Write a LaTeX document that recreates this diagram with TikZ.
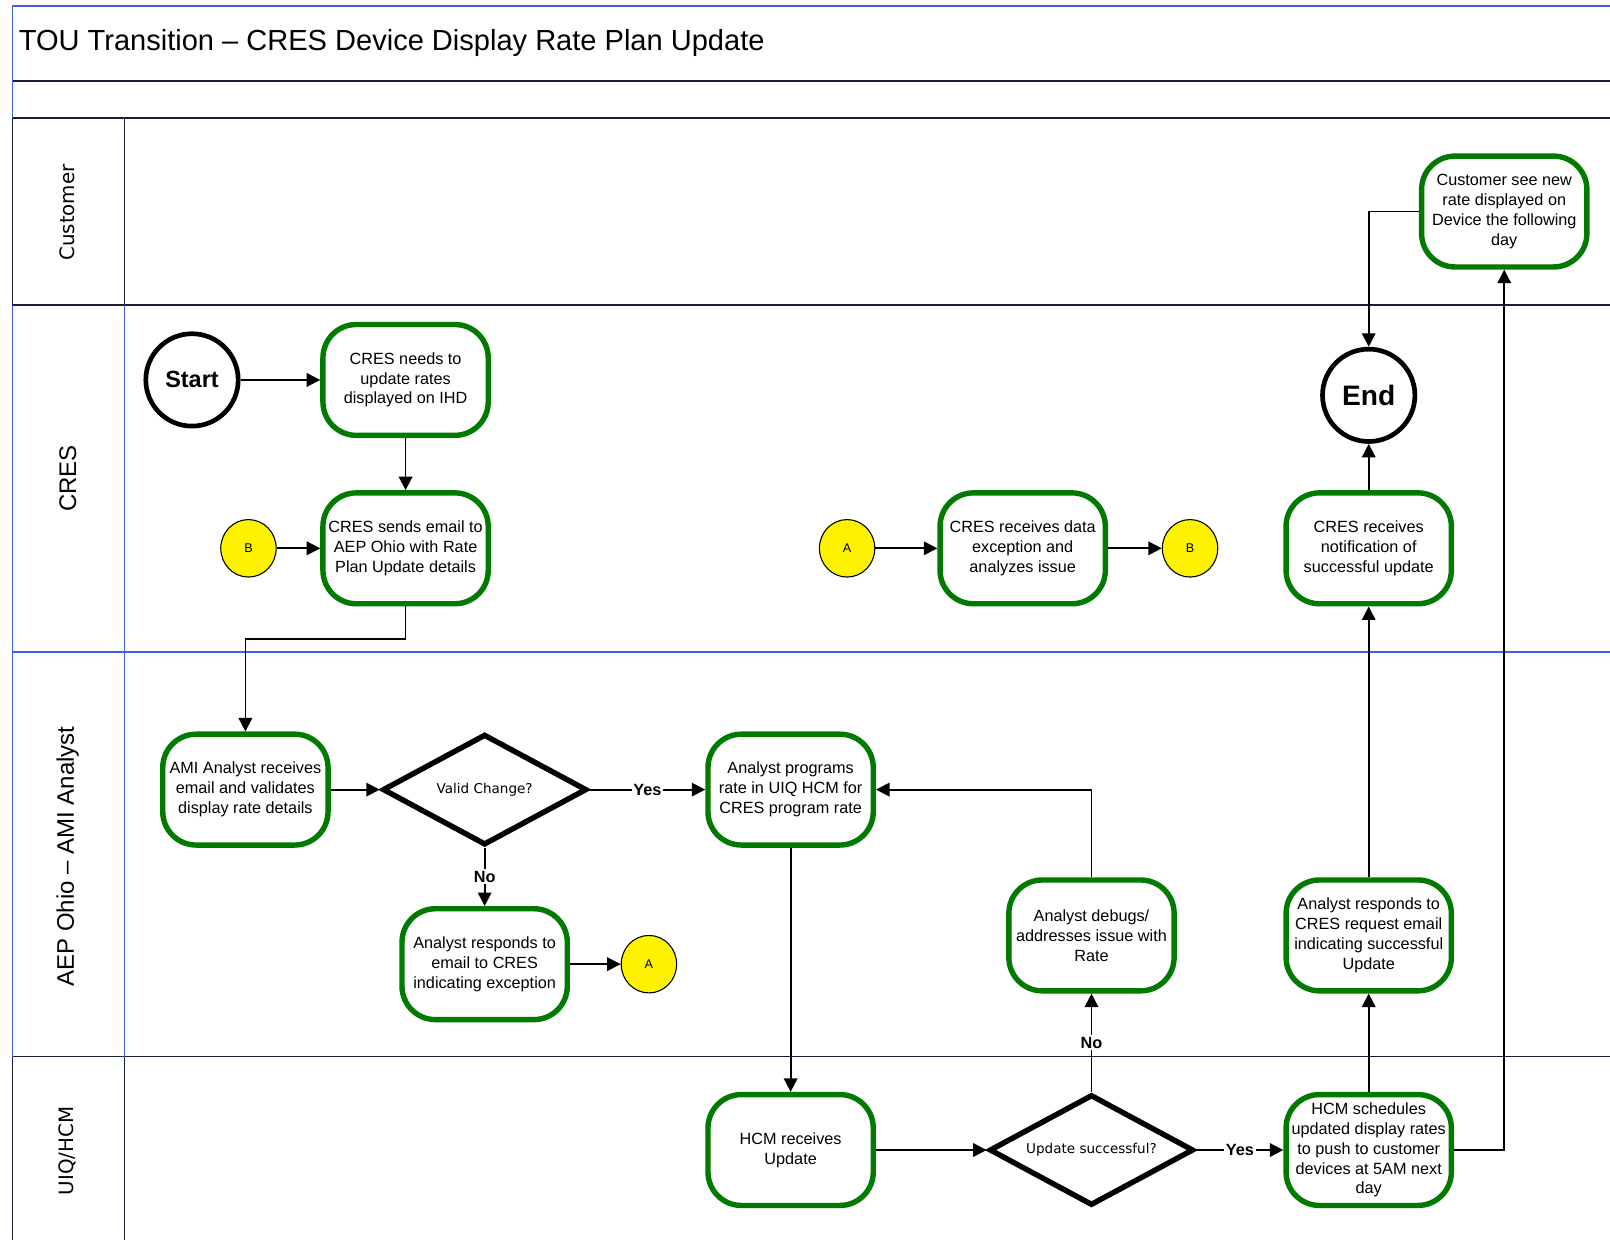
\documentclass[tikz,border=0pt]{standalone}
\usepackage{fontspec}
\setmainfont{Liberation Sans}
\newfontfamily\lanefont{DejaVu Sans}
\usepackage{tikz}
\usetikzlibrary{shapes.geometric,arrows.meta}
\definecolor{boxgreen}{RGB}{0,122,0}
\definecolor{laneblue}{RGB}{60,100,225}
\definecolor{lanedark}{RGB}{25,30,55}

\begin{document}
\begin{tikzpicture}[x=0.02cm,y=-0.02cm,
  task/.style={draw=boxgreen,line width=3pt,fill=white,rounded corners=0.65cm,minimum width=3.22cm,minimum height=2.16cm,inner sep=1pt,align=center,font=\fontsize{9}{11}\selectfont},
  choice/.style={draw,diamond,line width=3pt,aspect=1.8,minimum width=3.98cm,minimum height=2.16cm,inner sep=0pt,fill=white,font=\lanefont\fontsize{7.5}{9}\selectfont},
  terminal/.style={draw,circle,line width=2.6pt,minimum size=1.8cm,inner sep=0pt,fill=white},
  link/.style={draw,ellipse,fill=yellow,line width=0.6pt,minimum width=1.08cm,minimum height=1.12cm,inner sep=0pt,font=\fontsize{7}{8}\selectfont},
  flow/.style={line width=1pt,-{Triangle[length=7.5pt,width=7.5pt]}},
  answer/.style={fill=white,inner sep=1pt,font=\bfseries\fontsize{9}{10}\selectfont},
  lane/.style={rotate=90,font=\lanefont\fontsize{11}{13}\selectfont},
  widelane/.style={rotate=90,font=\fontsize{13.3}{15}\selectfont}]
\useasboundingbox (0,0) rectangle (1568,1208);
\draw[laneblue,line width=1.2pt] (12,6) -- (1568,6);
\draw[lanedark,line width=0.9pt] (12,79) -- (1568,79) (12,115) -- (1568,115) (12,297) -- (1568,297) (12,1029) -- (1568,1029);
\draw[laneblue,line width=0.9pt] (12,635) -- (1568,635);
\draw[laneblue,line width=0.6pt] (12,6) -- (12,115) (12,297) -- (12,1029) (121,297) -- (121,1029);
\draw[lanedark,line width=0.6pt] (12,115) -- (12,297) (12,1029) -- (12,1208) (121,115) -- (121,297) (121,1029) -- (121,1208);
\node[anchor=west,inner sep=0pt,font=\fontsize{16.1}{19}\selectfont] (title) at (18,42) {TOU Transition – CRES Device Display Rate Plan Update};
\node[lane] (lcustomer) at (66,207) {Customer};
\node[widelane] (lcres) at (66,466) {CRES};
\node[widelane] (laep) at (66,834) {AEP Ohio – AMI Analyst};
\node[lane] (luiq) at (66,1121) {UIQ/HCM};

\node[terminal,font=\bfseries\fontsize{13}{15}\selectfont] (start) at (187,370) {Start};
\node[task] (needs) at (395,370) {CRES needs to\\update rates\\displayed on IHD};
\node[task] (sends) at (395,534) {CRES sends email to\\AEP Ohio with Rate\\Plan Update details};
\node[link] (b1) at (242,534) {B};
\node[task] (validate) at (239,769) {AMI Analyst receives\\email and validates\\display rate details};
\node[choice] (valid) at (472,769) {Valid Change?};
\node[task] (exception) at (472,939) {Analyst responds to\\email to CRES\\indicating exception};
\node[link] (a1) at (632,939) {A};
\node[task] (program) at (770,769) {Analyst programs\\rate in UIQ HCM for\\CRES program rate};
\node[task] (receive) at (770,1120) {HCM receives\\Update};
\node[choice] (success) at (1063,1120) {Update successful?};
\node[task] (debug) at (1063,911) {Analyst debugs/\\addresses issue with\\Rate};
\node[task] (schedule) at (1333,1120) {HCM schedules\\updated display rates\\to push to customer\\devices at 5AM next\\day};
\node[task] (confirm) at (1333,911) {Analyst responds to\\CRES request email\\indicating successful\\Update};
\node[task] (notified) at (1333,534) {CRES receives\\notification of\\successful update};
\node[terminal,font=\bfseries\fontsize{15.6}{18}\selectfont] (finish) at (1333,385) {End};
\node[task] (display) at (1465,206) {Customer see new\\rate displayed on\\Device the following\\day};
\node[link] (a2) at (825,534) {A};
\node[task] (analyze) at (996,534) {CRES receives data\\exception and\\analyzes issue};
\node[link] (b2) at (1159,534) {B};

\draw[flow] (start) -- (needs);
\draw[flow] (needs) -- (sends);
\draw[flow] (b1) -- (sends);
\draw[flow] (sends.south) -- ++(0,32) -| (validate.north);
\draw[flow] (validate) -- (valid);
\draw[flow] (valid) -- node[answer] {Yes} (program);
\draw[flow] (valid) -- node[answer] {No} (exception);
\draw[flow] (exception) -- (a1);
\draw[flow] (program) -- (receive);
\draw[flow] (receive) -- (success);
\draw[flow] (success) -- node[answer] {Yes} (schedule);
\draw[flow] (success) -- node[answer] {No} (debug);
\draw[flow] (debug.north) |- (program.east);
\draw[flow] (schedule) -- (confirm);
\draw[flow] (confirm) -- (notified);
\draw[flow] (notified) -- (finish);
\draw[flow] (display.west) -| (finish.north);
\draw[flow] (schedule.east) -| (display.south);
\draw[flow] (a2) -- (analyze);
\draw[flow] (analyze) -- (b2);
\end{tikzpicture}
\end{document}
